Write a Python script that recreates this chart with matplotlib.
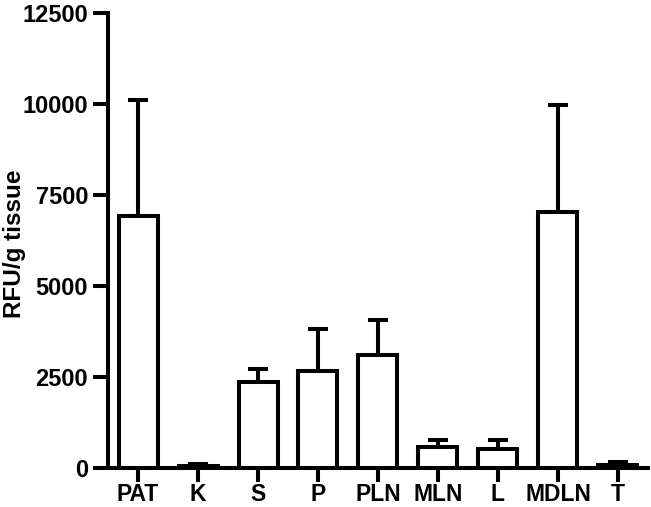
import matplotlib
matplotlib.use("Agg")
import matplotlib.pyplot as plt
import numpy as np

categories = ["PAT", "K", "S", "P", "PLN", "MLN", "L", "MDLN", "T"]
means = [6920, 60, 2360, 2670, 3100, 570, 520, 7040, 80]
upper = [10100, 120, 2720, 3830, 4070, 780, 780, 9970, 170]
yticks = [0, 2500, 5000, 7500, 10000, 12500]

plt.rcParams['font.family'] = ['Liberation Sans', 'DejaVu Sans']
plt.rcParams['font.weight'] = 'bold'

fig = plt.figure(figsize=(6.51, 5.07), dpi=100)
ax = fig.add_axes([108/651, 1-468/507, (648-108)/651, (468-13)/507])

lw = 2.9
x = np.arange(len(categories))
err = np.array(upper) - np.array(means)
ax.bar(x, means, width=0.65, color='white', edgecolor='black', linewidth=lw, zorder=3)
ax.errorbar(x, means, yerr=[np.zeros(len(x)), err], fmt='none', ecolor='black',
            elinewidth=lw, capsize=7.5, capthick=lw, zorder=2)

ax.set_xlim(-0.5, len(categories) - 0.5)
ax.set_ylim(0, 12500)
ax.set_yticks(yticks)
ax.set_xticks(x)
ax.set_xticklabels(categories)
ax.spines['top'].set_visible(False)
ax.spines['right'].set_visible(False)
for s in ['left', 'bottom']:
    ax.spines[s].set_linewidth(lw)
ax.tick_params(axis='y', width=lw, length=10.8, labelsize=17, pad=3.5)
ax.tick_params(axis='x', width=lw, length=10, labelsize=16.5, pad=1.0)
for lab in ax.get_xticklabels() + ax.get_yticklabels():
    lab.set_fontweight('bold')
fig.text(15/651, 1-244/507, "RFU/g tissue", rotation=90, ha='center', va='center',
         fontsize=17.5, fontweight='bold')

fig.savefig("out.png", dpi=100)
